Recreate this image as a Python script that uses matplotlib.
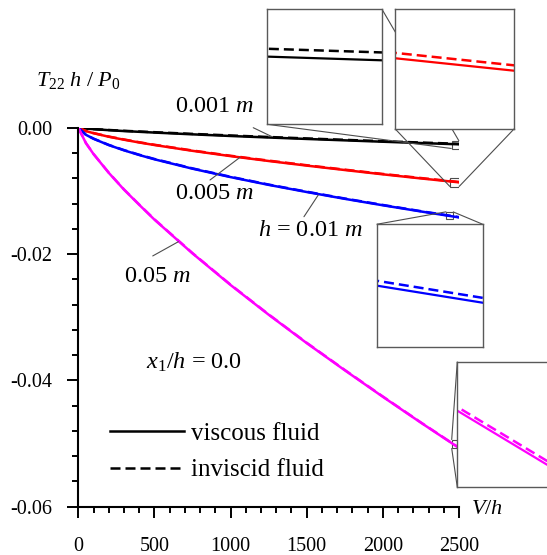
import numpy as np
import matplotlib
matplotlib.use('Agg')
import matplotlib.pyplot as plt
from matplotlib.ticker import MultipleLocator
from mpl_toolkits.axes_grid1.inset_locator import mark_inset

plt.rcParams['font.family'] = 'Liberation Serif'
plt.rcParams['mathtext.fontset'] = 'custom'
plt.rcParams['mathtext.rm'] = 'Liberation Serif'
plt.rcParams['mathtext.it'] = 'Liberation Serif:italic'

# V/h values
V = [0, 50, 100, 200, 300, 400, 500, 750, 1000, 1250, 1500, 1750, 2000, 2250, 2500]

# T22 h / P0, viscous (solid) and inviscid (dashed)
visc_001 = [0, -0.00013, -0.00023, -0.00039, -0.00053, -0.00065, -0.00077, -0.00105,
            -0.00131, -0.00155, -0.00178, -0.00200, -0.00222, -0.00243, -0.00263]
invi_001 = [0, -0.00012, -0.00021, -0.00036, -0.00049, -0.00060, -0.00071, -0.00098,
            -0.00123, -0.00147, -0.00170, -0.00192, -0.00214, -0.002348, -0.002548]
visc_005 = [0, -0.00053, -0.00087, -0.00143, -0.00190, -0.00234, -0.00274, -0.00366,
            -0.00450, -0.00527, -0.00600, -0.00670, -0.00738, -0.00803, -0.00865]
invi_005 = [0, -0.00052, -0.00085, -0.00140, -0.00186, -0.00230, -0.00270, -0.00361,
            -0.00444, -0.00521, -0.00594, -0.00664, -0.00732, -0.007967, -0.008587]
visc_01 = [0, -0.00112, -0.00175, -0.00275, -0.00358, -0.00432, -0.00500, -0.00649,
           -0.00782, -0.00905, -0.01018, -0.01126, -0.01228, -0.01326, -0.01420]
invi_01 = [0, -0.00111, -0.00173, -0.00272, -0.00354, -0.00428, -0.00495, -0.00644,
           -0.00777, -0.00900, -0.01013, -0.01121, -0.01223, -0.013214, -0.014154]
visc_05 = [0, -0.00243, -0.00417, -0.00714, -0.00980, -0.01220, -0.01455, -0.01990,
           -0.02490, -0.02960, -0.03410, -0.03840, -0.04260, -0.04670, -0.05070]
invi_05 = [0, -0.00242, -0.00415, -0.00711, -0.00976, -0.01216, -0.01450, -0.01985,
           -0.02485, -0.02955, -0.03405, -0.03835, -0.04255, -0.046661, -0.050661]

series = [(visc_001, invi_001, 'black'), (visc_005, invi_005, '#ff0000'),
          (visc_01, invi_01, '#0000ff'), (visc_05, invi_05, '#ff00ff')]

fig = plt.figure(figsize=(5.47, 5.55), dpi=100)
ax = fig.add_axes([0.1431, 0.0870, 0.6960, 0.6829])

for visc, invi, col in series:
    ax.plot(V, invi, color=col, lw=1.8, dashes=(4, 2))
    ax.plot(V, visc, color=col, lw=1.8)

ax.set_xlim(0, 2500)
ax.set_ylim(-0.06, 0)
ax.spines['top'].set_visible(False)
ax.spines['right'].set_visible(False)
for s in ['left', 'bottom']:
    ax.spines[s].set_linewidth(1.5)
ax.xaxis.set_major_locator(MultipleLocator(500))
ax.xaxis.set_minor_locator(MultipleLocator(100))
ax.yaxis.set_major_locator(MultipleLocator(0.02))
ax.yaxis.set_minor_locator(MultipleLocator(0.004))
ax.yaxis.set_major_formatter(matplotlib.ticker.FormatStrFormatter('%.2f'))
ax.tick_params(which='major', length=8, width=1.4, labelsize=14.5, direction='out')
ax.tick_params(which='minor', length=4.5, width=1.4, direction='out')
ax.tick_params(axis='x', which='major', pad=14)
ax.tick_params(axis='y', which='major', pad=11)

# labels
ax.text(0, 0.0074, r'$T_{22}\ h\ /\ P_0$', ha='center', va='center', fontsize=16)
ax.text(2685, -0.0604, r'$V/h$', ha='center', va='center', fontsize=16, clip_on=False)
ax.text(898, 0.00328, r'0.001 $m$', ha='center', va='center', fontsize=17.5)
ax.text(898, -0.01034, r'0.005 $m$', ha='center', va='center', fontsize=17.5)
ax.text(1527, -0.0162, r'$h$ = 0.01 $m$', ha='center', va='center', fontsize=17.5)
ax.text(523, -0.02348, r'0.05 $m$', ha='center', va='center', fontsize=17.5)
ax.text(761, -0.0371, r'$x_1/h$ = 0.0', ha='center', va='center', fontsize=17.5)

leaders = [((1149, 0.0), (1270, -0.0014)),
           ((865, -0.00828), (1062, -0.00469)),
           ((1482, -0.01409), (1576, -0.01065)),
           ((489, -0.0203), (657, -0.01805))]
for start, end in leaders:
    ax.annotate('', xy=end, xytext=start,
                arrowprops=dict(arrowstyle='-', lw=0.8, color='0.3',
                                shrinkA=0, shrinkB=0))

h1, = ax.plot([], [], color='black', lw=1.8)
h2, = ax.plot([], [], color='black', lw=1.8, dashes=(4, 2))
ax.legend([h1, h2], ['viscous fluid', 'inviscid fluid'], loc='center left',
          bbox_to_anchor=(0.083, 0.1443), frameon=False, fontsize=18,
          handlelength=2.95, handletextpad=0.28, labelspacing=0.55,
          borderpad=0, borderaxespad=0)

# zoomed insets: position [l, b, w, h], xlim, ylim, connector corners
insets = [
    (0, [0.4887, 0.7760, 0.2097, 0.2072], (2452, 2500), (-0.003298, -0.002098), (1, 3)),
    (1, [0.7221, 0.7681, 0.2181, 0.2151], (2441, 2500), (-0.00933, -0.00793), (3, 4)),
    (2, [0.6887, 0.3748, 0.1938, 0.2211], (2417, 2460), (-0.014468, -0.013308), (1, 2)),
    (3, [0.8360, 0.1220, 0.2300, 0.2263], (2452, 2501), (-0.050725, -0.049425), (2, 3)),
]
for idx, pos, xl, yl, locs in insets:
    visc, invi, col = series[idx]
    axi = fig.add_axes(pos)
    axi.plot(V, invi, color=col, lw=1.8, dashes=(4, 2))
    axi.plot(V, visc, color=col, lw=1.6)
    axi.set_xlim(*xl)
    axi.set_ylim(*yl)
    axi.set_xticks([])
    axi.set_yticks([])
    for s in axi.spines.values():
        s.set_color('0.35')
        s.set_linewidth(1.0)
    mark_inset(ax, axi, loc1=locs[0], loc2=locs[1], fc='none', ec='0.3', lw=0.8)

fig.savefig('out.png', dpi=100)
